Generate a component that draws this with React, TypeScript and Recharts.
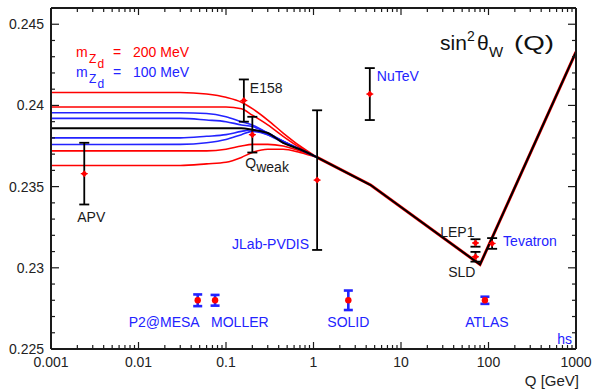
import React from 'react';
import { ComposedChart, Line, Scatter, XAxis, YAxis, ErrorBar } from 'recharts';

const FONT = '"Liberation Sans", Arial, Helvetica, sans-serif';
const RED = '#ff0000';
const BLUE = '#2323ff';
const INK = '#1a1a1a';

// ---- axis ticks ----
const xMajorTicks = [0.001, 0.01, 0.1, 1, 10, 100, 1000];
const xTickLabels = ['0.001', '0.01', '0.1', '1', '10', '100', '1000'];
const xMinorMultipliers = [2, 3, 4, 5, 6, 7, 8, 9];
const yMajorTicks = [0.225, 0.23, 0.235, 0.24, 0.245];
const yTickLabels = ['0.225', '0.23', '0.235', '0.24', '0.245'];
const yMinorTicks = [
  0.226, 0.227, 0.228, 0.229, 0.231, 0.232, 0.233, 0.234,
  0.236, 0.237, 0.238, 0.239, 0.241, 0.242, 0.243, 0.244,
];

// ---- running sin^2 theta_W curves, low-Q part ----
const qLow = [0.001, 0.03, 0.06, 0.1, 0.15, 0.2, 0.3, 0.45, 0.7, 1.1];
const red200Top = [0.2408, 0.2408, 0.2407, 0.2405, 0.2402, 0.2398, 0.2391, 0.2383, 0.2375, 0.2368];
const red200Mid = [0.2399, 0.2399, 0.2399, 0.2399, 0.2398, 0.2394, 0.2388, 0.2381, 0.2374, 0.2368];
const blue100Top = [0.23955, 0.23955, 0.2395, 0.2393, 0.239, 0.2388, 0.2383, 0.2378, 0.2373, 0.2368];
const blue100Mid = [0.2392, 0.2392, 0.2391, 0.239, 0.2388, 0.2387, 0.2383, 0.2378, 0.2373, 0.2368];
const smLow = [0.2386, 0.2386, 0.2386, 0.2386, 0.2386, 0.2385, 0.2383, 0.2377, 0.2373, 0.2368];
const blue100Low = [0.238, 0.238, 0.2381, 0.2382, 0.2384, 0.2385, 0.2382, 0.2378, 0.2373, 0.2368];
const blue100Bot = [0.23759, 0.2376, 0.2377, 0.2379, 0.2382, 0.2384, 0.2382, 0.2377, 0.2373, 0.2368];
const red200Low = [0.2372, 0.2372, 0.2372, 0.2373, 0.2375, 0.2376, 0.2376, 0.2375, 0.2372, 0.2368];
const red200Bot = [0.2363, 0.2363, 0.2364, 0.2365, 0.2368, 0.2371, 0.2373, 0.2373, 0.2371, 0.2368];

// ---- shared high-Q part ----
const qHigh = [1.1, 4.5, 80, 1000];
const smHigh = [0.2368, 0.2351, 0.2302, 0.2433];

// ---- measurements ----
const measNames = ['APV', 'E158', 'Qweak', 'JLab-PVDIS', 'NuTeV', 'LEP1', 'SLD', 'Tevatron'];
const measQ = [0.0024, 0.16, 0.2, 1.1, 4.4, 71, 71, 110];
const measV = [0.2358, 0.2403, 0.2382, 0.2354, 0.2407, 0.23153, 0.23068, 0.2315];
const measErr = [0.0019, 0.0013, 0.0011, 0.0043, 0.0016, 0.00023, 0.0003, 0.00033];

// ---- future experiments ----
const futNames = ['P2@MESA', 'MOLLER', 'SOLID', 'ATLAS'];
const futQ = [0.0475, 0.075, 2.5, 91];
const futV = [0.228, 0.228, 0.228, 0.228];
const futErr = [0.00036, 0.00033, 0.0006, 0.00022];

// label placement (style only)
const labelStyle: Record<string, { dx: number; dy: number; anchor: string; color: string }> = {
  APV: { dx: 7, dy: 48, anchor: 'middle', color: INK },
  E158: { dx: 6, dy: -8, anchor: 'start', color: INK },
  Qweak: { dx: -7, dy: 33, anchor: 'start', color: INK },
  'JLab-PVDIS': { dx: -8, dy: 69, anchor: 'end', color: BLUE },
  NuTeV: { dx: 7, dy: -13, anchor: 'start', color: BLUE },
  LEP1: { dx: -1, dy: -6, anchor: 'end', color: INK },
  SLD: { dx: 0, dy: 20, anchor: 'end', color: INK },
  Tevatron: { dx: 11, dy: 3, anchor: 'start', color: BLUE },
  'P2@MESA': { dx: 2, dy: 27, anchor: 'end', color: BLUE },
  MOLLER: { dx: -4, dy: 27, anchor: 'start', color: BLUE },
  SOLID: { dx: 0, dy: 27, anchor: 'middle', color: BLUE },
  ATLAS: { dx: 2, dy: 27, anchor: 'middle', color: BLUE },
};

const rows = (qs: number[], vs: number[]) => qs.map((q, i) => ({ q, v: vs[i] }));
const measRows = measNames.map((name, i) => ({ name, q: measQ[i], v: measV[i], e: measErr[i] }));
const futRows = futNames.map((name, i) => ({ name, q: futQ[i], v: futV[i], e: futErr[i] }));

const xAllTicks = [
  ...xMajorTicks,
  ...xMajorTicks.slice(0, -1).flatMap((d) => xMinorMultipliers.map((m) => d * m)),
];
const yAllTicks = [...yMajorTicks, ...yMinorTicks];

const xMajorIndex = (v: number) => xMajorTicks.findIndex((t) => Math.abs(Math.log10(v / t)) < 1e-6);
const yMajorIndex = (v: number) => yMajorTicks.findIndex((t) => Math.abs(v - t) < 1e-9);

const BottomTick = (p: any) => {
  const { x, y, payload } = p;
  const idx = xMajorIndex(payload.value);
  const len = idx >= 0 ? 7 : 4;
  return (
    <g>
      <line x1={x} x2={x} y1={y} y2={y - len} stroke={INK} strokeWidth={1.2} />
      {idx >= 0 && (
        <text x={x} y={y + 18} textAnchor="middle" fontSize={14} fill="#222" fontFamily={FONT}>
          {xTickLabels[idx]}
        </text>
      )}
    </g>
  );
};
const TopTick = (p: any) => {
  const { x, y, payload } = p;
  const len = xMajorIndex(payload.value) >= 0 ? 7 : 4;
  return <line x1={x} x2={x} y1={y} y2={y + len} stroke={INK} strokeWidth={1.2} />;
};
const LeftTick = (p: any) => {
  const { x, y, payload } = p;
  const idx = yMajorIndex(payload.value);
  const len = idx >= 0 ? 8 : 4;
  return (
    <g>
      <line x1={x} x2={x + len} y1={y} y2={y} stroke={INK} strokeWidth={1.2} />
      {idx >= 0 && (
        <text x={x - 7} y={y} dy="0.36em" textAnchor="end" fontSize={14} fill="#222" fontFamily={FONT}>
          {yTickLabels[idx]}
        </text>
      )}
    </g>
  );
};
const RightTick = (p: any) => {
  const { x, y, payload } = p;
  const len = yMajorIndex(payload.value) >= 0 ? 8 : 4;
  return <line x1={x} x2={x - len} y1={y} y2={y} stroke={INK} strokeWidth={1.2} />;
};

const PointLabel = ({ cx, cy, name }: { cx: number; cy: number; name: string }) => {
  const s = labelStyle[name];
  if (!s) return null;
  if (name === 'Qweak') {
    return (
      <text x={cx + s.dx} y={cy + s.dy} fontSize={14} fill={s.color} fontFamily={FONT} textAnchor="start">
        <tspan>Q</tspan>
        <tspan dy={4}>weak</tspan>
      </text>
    );
  }
  return (
    <text x={cx + s.dx} y={cy + s.dy} fontSize={14} fill={s.color} fontFamily={FONT} textAnchor={s.anchor as any}>
      {name}
    </text>
  );
};

const MeasMarker = (p: any) => {
  const { cx, cy, payload } = p;
  if (cx == null || cy == null) return <g />;
  return (
    <g>
      <path d={`M${cx},${cy - 3.5}L${cx + 3},${cy}L${cx},${cy + 3.5}L${cx - 3},${cy}Z`} fill={RED} />
      <line x1={cx - 3.5} x2={cx + 3.5} y1={cy} y2={cy} stroke={RED} strokeWidth={1.2} />
      <PointLabel cx={cx} cy={cy} name={payload.name} />
    </g>
  );
};
const FutMarker = (p: any) => {
  const { cx, cy, payload } = p;
  if (cx == null || cy == null) return <g />;
  return (
    <g>
      <circle cx={cx} cy={cy} r={3.2} fill={RED} />
      <PointLabel cx={cx} cy={cy} name={payload.name} />
    </g>
  );
};
const Empty = () => <g />;

const lowCurves: { vals: number[]; color: string; w: number }[] = [
  { vals: red200Top, color: RED, w: 1.6 },
  { vals: red200Mid, color: RED, w: 1.6 },
  { vals: red200Low, color: RED, w: 1.6 },
  { vals: red200Bot, color: RED, w: 1.6 },
  { vals: blue100Top, color: BLUE, w: 1.6 },
  { vals: blue100Mid, color: BLUE, w: 1.6 },
  { vals: blue100Low, color: BLUE, w: 1.6 },
  { vals: blue100Bot, color: BLUE, w: 1.6 },
];

export default function App() {
  const axisLine = { stroke: INK, strokeWidth: 2 };
  return (
    <div style={{ position: 'absolute', left: 0, top: 0, width: 595, height: 390, background: '#fff' }}>
      <ComposedChart width={595} height={390} margin={{ top: 0, right: 0, bottom: 0, left: 0 }}>
        <XAxis
          xAxisId="b"
          dataKey="q"
          type="number"
          scale="log"
          domain={[0.001, 1000]}
          allowDataOverflow
          ticks={xAllTicks}
          interval={0}
          tickSize={0}
          tickMargin={0}
          tickLine={false}
          axisLine={axisLine}
          tick={(p: any) => <BottomTick {...p} />}
          height={41}
          orientation="bottom"
        />
        <XAxis
          xAxisId="t"
          dataKey="q"
          type="number"
          scale="log"
          domain={[0.001, 1000]}
          allowDataOverflow
          ticks={xAllTicks}
          interval={0}
          tickSize={0}
          tickMargin={0}
          tickLine={false}
          axisLine={axisLine}
          tick={(p: any) => <TopTick {...p} />}
          height={8}
          orientation="top"
        />
        <YAxis
          yAxisId="l"
          dataKey="v"
          type="number"
          domain={[0.225, 0.246]}
          allowDataOverflow
          ticks={yAllTicks}
          interval={0}
          tickSize={0}
          tickMargin={0}
          tickLine={false}
          axisLine={axisLine}
          tick={(p: any) => <LeftTick {...p} />}
          width={51}
          orientation="left"
        />
        <YAxis
          yAxisId="r"
          dataKey="v"
          type="number"
          domain={[0.225, 0.246]}
          allowDataOverflow
          ticks={yAllTicks}
          interval={0}
          tickSize={0}
          tickMargin={0}
          tickLine={false}
          axisLine={axisLine}
          tick={(p: any) => <RightTick {...p} />}
          width={19}
          orientation="right"
        />

        <Line
          xAxisId="b"
          yAxisId="l"
          data={rows(qHigh, smHigh)}
          dataKey="v"
          type="linear"
          stroke={RED}
          strokeWidth={3}
          dot={false}
          isAnimationActive={false}
        />
        {lowCurves.map((c, i) => (
          <Line
            key={i}
            xAxisId="b"
            yAxisId="l"
            data={rows(qLow, c.vals)}
            dataKey="v"
            type="monotone"
            stroke={c.color}
            strokeWidth={c.w}
            dot={false}
            isAnimationActive={false}
          />
        ))}
        <Line
          xAxisId="b"
          yAxisId="l"
          data={rows(qLow, smLow)}
          dataKey="v"
          type="monotone"
          stroke="#000"
          strokeWidth={2}
          dot={false}
          isAnimationActive={false}
        />
        <Line
          xAxisId="b"
          yAxisId="l"
          data={rows(qHigh, smHigh)}
          dataKey="v"
          type="linear"
          stroke="#000"
          strokeWidth={2}
          dot={false}
          isAnimationActive={false}
        />

        <Scatter xAxisId="b" yAxisId="l" data={measRows} dataKey="v" shape={Empty} isAnimationActive={false}>
          <ErrorBar dataKey="e" direction="y" width={5} stroke="#000" strokeWidth={1.8} />
        </Scatter>
        <Scatter xAxisId="b" yAxisId="l" data={futRows} dataKey="v" shape={Empty} isAnimationActive={false}>
          <ErrorBar dataKey="e" direction="y" width={4.5} stroke={BLUE} strokeWidth={2.6} />
        </Scatter>
        <Scatter xAxisId="b" yAxisId="l" data={measRows} dataKey="v" shape={MeasMarker} isAnimationActive={false} />
        <Scatter xAxisId="b" yAxisId="l" data={futRows} dataKey="v" shape={FutMarker} isAnimationActive={false} />
      </ComposedChart>

      <svg
        width={595}
        height={390}
        style={{ position: 'absolute', left: 0, top: 0, pointerEvents: 'none' }}
        fontFamily={FONT}
      >
        {[
          { mass: '200 MeV', color: RED, base: 56.5 },
          { mass: '100 MeV', color: BLUE, base: 77 },
        ].map((r) => (
          <g key={r.mass} fill={r.color}>
            <text x={76} y={r.base} fontSize={14}>m</text>
            <text x={89} y={r.base + 6} fontSize={12}>Z</text>
            <text x={97.5} y={r.base + 11} fontSize={12}>d</text>
            <text x={113} y={r.base} fontSize={14}>=</text>
            <text x={133} y={r.base} fontSize={14}>{r.mass}</text>
          </g>
        ))}
        <g fill="#111">
          <text x={440} y={50} fontSize={21}>sin</text>
          <text x={467} y={41} fontSize={14}>2</text>
          <text x={477} y={50} fontSize={21}>θ</text>
          <text x={489} y={57} fontSize={15}>W</text>
          <text x={514} y={50} fontSize={21} textLength={40} lengthAdjust="spacingAndGlyphs">(Q)</text>
        </g>
        <text x={572} y={344} textAnchor="end" fontSize={14} fill={BLUE}>hs</text>
        <text x={579} y={386} textAnchor="end" fontSize={15} fill="#222">Q [GeV]</text>
      </svg>
    </div>
  );
}
